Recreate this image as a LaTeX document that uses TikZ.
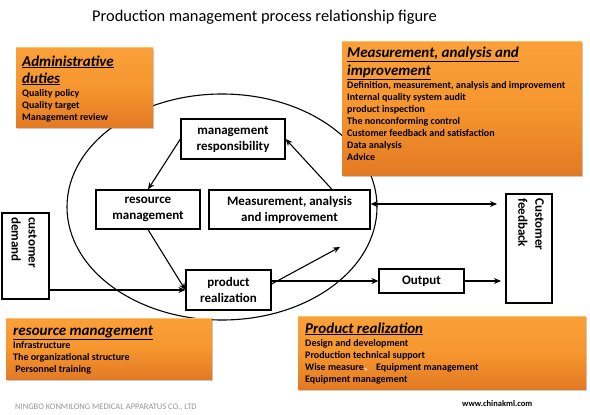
\documentclass[tikz,border=0pt]{standalone}
\usepackage{fontspec}
\setmainfont{Carlito}
\newfontfamily\cjkfont{Noto Sans CJK SC}
\usetikzlibrary{arrows.meta,shadows}
\definecolor{orTop}{RGB}{250,160,58}
\definecolor{orMid}{RGB}{246,150,46}
\definecolor{orBot}{RGB}{226,122,36}
\definecolor{orEdge}{RGB}{250,196,100}
\definecolor{footgray}{RGB}{150,150,150}
\tikzset{
  orangebox/.style={top color=orTop, bottom color=orBot, middle color=orMid, draw=none,
    drop shadow={shadow xshift=1.2pt, shadow yshift=-1.5pt, opacity=0.35, fill=black!60}},
  topedge/.style={draw=orEdge, line width=1.5pt},
  headtxt/.style={anchor=base west, inner sep=0pt, font=\bfseries\itshape\fontsize{15}{18}\selectfont},
  listtxt/.style={anchor=base west, inner sep=0pt, font=\bfseries\fontsize{10}{12}\selectfont},
  procbox/.style={draw=black, line width=1.2pt, fill=white, align=center,
    font=\bfseries\fontsize{13}{16}\selectfont, inner sep=0pt},
  rottxt/.style={rotate=-90, anchor=north west, align=left, inner sep=0pt,
    font=\bfseries\fontsize{13}{17}\selectfont},
  arr/.style={line width=1.1pt, -{Stealth[length=7pt,width=6pt]}},
  darr/.style={line width=1.1pt, {Stealth[length=7pt,width=6pt]}-{Stealth[length=7pt,width=6pt]}},
}
\begin{document}
\begin{tikzpicture}[x=1pt,y=-1pt]
\useasboundingbox[fill=white] (0,0) rectangle (590,415);

% title
\node[anchor=base west, inner sep=0pt, font=\fontsize{16.4}{19}\selectfont] (title) at (92,21) {Production management process relationship figure};

% ellipse
\draw[line width=1.1pt] (222,207) ellipse [x radius=155, y radius=113];

% orange boxes
\path[orangebox] (16,47) rectangle (153,127);
\path[orangebox] (342,41) rectangle (582,175);
\path[orangebox] (6,318) rectangle (212,379);
\path[orangebox] (298,316) rectangle (586,389);
\draw[topedge] (16,47.7) -- (153,47.7);
\draw[topedge] (342,41.7) -- (582,41.7);
\draw[topedge] (6,318.7) -- (212,318.7);
\draw[topedge] (298,316.7) -- (586,316.7);

% administrative duties
\node[headtxt] (adh1) at (22,66) {\underline{Administrative}};
\node[headtxt] (adh2) at (22,83) {\underline{duties}};
\node[listtxt] (ad1) at (22,96) {Quality policy};
\node[listtxt] (ad2) at (22,108) {Quality target};
\node[listtxt] (ad3) at (22,120) {Management review};

% measurement
\node[headtxt] (meh1) at (347,57) {\underline{Measurement, analysis and}};
\node[headtxt] (meh2) at (347,75) {\underline{improvement}};
\node[listtxt] (me1) at (347,88) {Definition, measurement, analysis and improvement};
\node[listtxt] (me2) at (347,100) {Internal quality system audit};
\node[listtxt] (me3) at (347,112) {product inspection};
\node[listtxt] (me4) at (347,124) {The nonconforming control};
\node[listtxt] (me5) at (347,136) {Customer feedback and satisfaction};
\node[listtxt] (me6) at (347,148) {Data analysis};
\node[listtxt] (me7) at (347,160) {Advice};

% resource management
\node[headtxt] (rmh) at (13,335) {\underline{resource management}};
\node[listtxt] (rm1) at (13,348) {Infrastructure};
\node[listtxt] (rm2) at (13,360) {The organizational structure};
\node[listtxt] (rm3) at (13,372) {\ Personnel training};

% product realization
\node[headtxt] (prh) at (305,333) {\underline{Product realization}};
\node[listtxt] (pr1) at (305,346) {Design and development};
\node[listtxt] (pr2) at (305,358) {Production technical support};
\node[listtxt] (pr3) at (305,370) {Wise measure{\cjkfont\color{white!75!gray}、}\ Equipment management};
\node[listtxt] (pr4) at (305,382) {Equipment management};

% process boxes
\node[procbox, minimum width=104pt, minimum height=40pt] (mgmt) at (233,139) {management\\responsibility};
\node[procbox, minimum width=104pt, minimum height=39pt] (resm) at (148,209.5) {resource\\management};
\node[procbox, minimum width=161pt, minimum height=39pt] (meas) at (289.5,209.5) {Measurement, analysis\\and improvement};
\node[procbox, minimum width=85pt, minimum height=40pt] (prod) at (228.5,290) {product\\realization};
\node[procbox, minimum width=85pt, minimum height=24pt] (outp) at (421.5,281) {Output};
\node[procbox, minimum width=46pt, minimum height=109pt] (cfb) at (529,248.5) {};
\node[procbox, minimum width=47pt, minimum height=86pt] (cdem) at (25.5,256) {};
\node[rottxt] (cfbt) at (544,198) {Customer\\feedback};
\node[rottxt] (cdemt) at (37,217) {customer\\demand};

% connectors
\coordinate (mtip) at (340,247);
\coordinate (otip) at (501,281);
\coordinate (ftip) at (497,204);
\draw[arr] (mgmt.west) -- (resm.north);
\draw[arr] (resm.south) -- (prod.west);
\draw[arr] (cdem.east |- prod.west) -- (prod.west);
\draw[arr] ([yshift=6pt]prod.east) -- (mtip);
\draw[arr] ([xshift=42.5pt]meas.north) -- (mgmt.east);
\draw[arr] (prod.east |- outp.west) -- (outp.west);
\draw[arr] (outp.east) -- (otip);
\draw[darr] ([yshift=5.5pt]meas.east) -- (ftip);

% footer
\node[anchor=base west, inner sep=0pt, text=footgray, font=\fontsize{8.5}{10}\selectfont] (foot1) at (15,409) {NINGBO KONMILONG MEDICAL APPARATUS CO., LTD};
\node[anchor=base west, inner sep=0pt, font=\bfseries\fontsize{8.5}{10}\selectfont] (foot2) at (462,406) {www.chinakml.com};
\end{tikzpicture}
\end{document}
